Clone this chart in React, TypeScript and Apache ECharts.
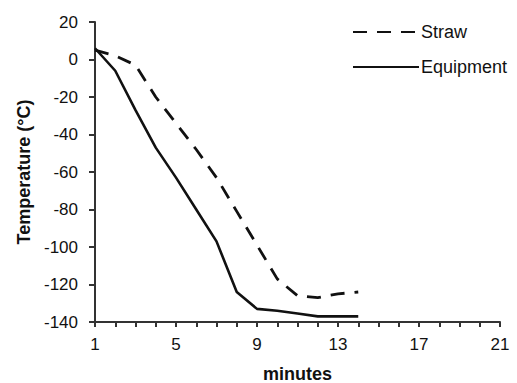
import React, { useEffect, useRef } from "react";
import * as echarts from "echarts";

const minutes = Array.from({ length: 21 }, (_, i) => String(i + 1));
const straw = [5, 2, -3, -20, -34, -48, -63, -81, -99, -117, -126, -127, -125, -124];
const equipment = [6, -6, -27, -47, -63, -80, -97, -124, -133, -134, -135.5, -137, -137, -137];
const yTicks = { min: -140, max: 20, interval: 20 };

export default function App() {
  const ref = useRef<HTMLDivElement>(null);
  useEffect(() => {
    if (!ref.current) return;
    const chart = echarts.init(ref.current, undefined, { renderer: "svg" });
    const font = "'Liberation Sans', Arial, sans-serif";
    chart.setOption({
      animation: false,
      backgroundColor: "#ffffff",
      textStyle: { fontFamily: font },
      grid: { left: 95, right: 17, top: 22, bottom: 61, containLabel: false, outerBoundsMode: "none" },
      legend: {
        orient: "vertical",
        left: 347,
        top: 18,
        itemWidth: 66,
        itemHeight: 20,
        itemGap: 17,
        itemStyle: { opacity: 0 },
        textStyle: { fontFamily: font, fontSize: 18, color: "#111", padding: [0, 0, 0, -3] },
        data: ["Straw", "Equipment"],
      },
      xAxis: {
        type: "category",
        data: minutes,
        boundaryGap: false,
        name: "minutes",
        nameLocation: "middle",
        nameGap: 43,
        nameTextStyle: { fontFamily: font, fontSize: 18, fontWeight: "bold", color: "#111" },
        axisLine: { onZero: false, lineStyle: { color: "#333", width: 2 } },
        axisTick: { show: true, interval: 0, length: 5, lineStyle: { color: "#333", width: 2 } },
        axisLabel: { interval: 3, fontFamily: font, fontSize: 17, color: "#111", margin: 14 },
        splitLine: { show: false },
      },
      yAxis: {
        type: "value",
        min: yTicks.min,
        max: yTicks.max,
        interval: yTicks.interval,
        name: "Temperature (°C)",
        nameLocation: "middle",
        nameGap: 62,
        nameTextStyle: { fontFamily: font, fontSize: 18, fontWeight: "bold", color: "#111" },
        axisLine: { show: true, lineStyle: { color: "#333", width: 2 } },
        axisTick: { show: true, length: 6, lineStyle: { color: "#333", width: 2 } },
        axisLabel: { fontFamily: font, fontSize: 17, color: "#111", margin: 17 },
        splitLine: { show: false },
      },
      series: [
        {
          name: "Straw",
          type: "line",
          data: straw,
          symbol: "none",
          lineStyle: { color: "#111", width: 2.8, type: [14, 10] },
          itemStyle: { color: "#111" },
        },
        {
          name: "Equipment",
          type: "line",
          data: equipment,
          symbol: "none",
          lineStyle: { color: "#111", width: 2.6, type: "solid" },
          itemStyle: { color: "#111" },
        },
      ],
    });
    return () => chart.dispose();
  }, []);
  return <div ref={ref} style={{ width: 517, height: 383, position: "fixed", left: 0, top: 0 }} />;
}
